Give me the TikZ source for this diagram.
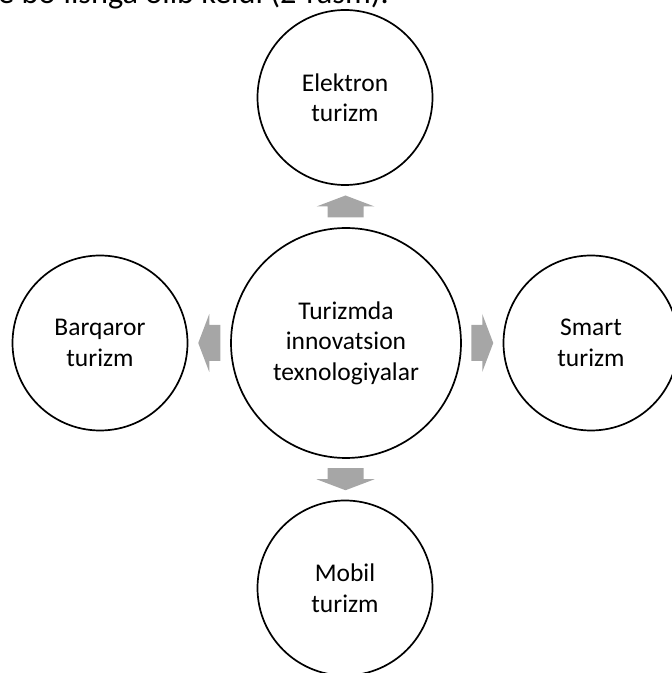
\documentclass[tikz,border=0pt]{standalone}
\usepackage{fontspec}
\setmainfont{Carlito}
\usetikzlibrary{calc}
\definecolor{arrowgray}{RGB}{166,166,166}
\def\blockarrow(#1)(#2)(#3){\fill[arrowgray, shift={($(#1)!0.5!(#2)$)}, rotate=#3] (-11,-18) -- (0,-18) -- (0,-29) -- (11,0) -- (0,29) -- (0,18) -- (-11,18) -- cycle;}
\tikzset{
	bubble/.style={circle, draw, line width=1.7pt, minimum size=175pt, inner sep=0pt, align=center, font=\fontsize{25.5}{30.5}\selectfont},
	hubble/.style={bubble, minimum size=230pt}
}

\begin{document}
\begin{tikzpicture}[x=1pt, y=1pt]
				\useasboundingbox (0, 0) rectangle (672, 673);
				
				\node[anchor=base west, inner sep=0pt, font=\fontsize{32.3}{39}\selectfont] (intro) at (-2, 669) {e bo'lishga olib keldi (2-rasm).};
				
				\node[hubble] (hub) at (346, 330) {Turizmda\\innovatsion\\texnologiyalar};
				\node[bubble] (elek) at (345, 575.5) {Elektron\\turizm};
				\node[bubble] (barq) at (100, 330) {Barqaror\\turizm};
				\node[bubble] (smart) at (591, 330) {Smart\\turizm};
				\node[bubble] (mobil) at (345, 85) {Mobil\\turizm};
				
				\blockarrow(hub.north)(elek.south)(90)
				\blockarrow(hub.west)(barq.east)(180)
				\blockarrow(hub.east)(smart.west)(0)
				\blockarrow(hub.south)(mobil.north)(-90)
			\end{tikzpicture}
\end{document}
